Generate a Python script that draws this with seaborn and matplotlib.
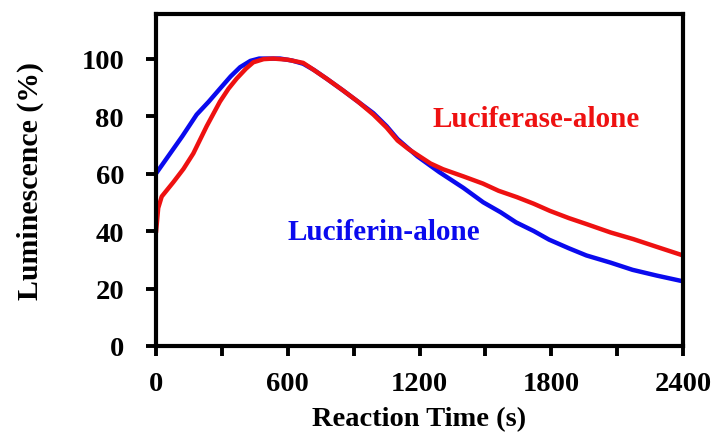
import matplotlib
matplotlib.use("Agg")
import matplotlib.pyplot as plt
import seaborn as sns
import pandas as pd
from matplotlib.ticker import MultipleLocator

# Data
luciferin_time = [0, 60, 120, 185, 240, 291, 340, 383, 430, 470, 520, 565, 620, 670, 720, 777,
                  850, 920, 990, 1050, 1100, 1190, 1290, 1400, 1490, 1570, 1640, 1720, 1790,
                  1880, 1960, 2070, 2170, 2280, 2400]
luciferin_lum = [60, 66.5, 73, 80.5, 85, 89.5, 93.8, 97, 99.2, 100, 100, 100, 99.3, 98.2, 96, 93,
                 89, 85, 81, 76.5, 72, 66, 60.5, 55, 50, 46.5, 43, 40, 37,
                 34, 31.5, 29, 26.5, 24.5, 22.5]
luciferase_time = [0, 10, 26, 79, 125, 170, 231, 291, 330, 367, 410, 443, 490, 534, 600, 670, 700,
                   777, 850, 920, 990, 1050, 1100, 1150, 1200, 1250, 1307, 1400, 1489, 1560, 1643,
                   1720, 1794, 1880, 1961, 2070, 2173, 2280, 2400]
luciferase_lum = [39.5, 48, 52, 57, 61.6, 67, 76.5, 85, 89.5, 93, 96.5, 98.7, 99.8, 100, 99.6, 98.5, 97,
                  93, 89, 85, 80.5, 76, 71.5, 68.5, 66, 63.5, 61.5, 59, 56.5, 54, 51.8,
                  49.5, 47, 44.5, 42.4, 39.5, 37.2, 34.5, 31.5]
series_names = ["Luciferin-alone", "Luciferase-alone"]
x_ticks = [0, 600, 1200, 1800, 2400]
y_ticks = [0, 20, 40, 60, 80, 100]

df = pd.concat([
    pd.DataFrame({"t": luciferin_time, "lum": luciferin_lum, "series": series_names[0]}),
    pd.DataFrame({"t": luciferase_time, "lum": luciferase_lum, "series": series_names[1]}),
])

sns.set_style("white", {"text.color": "black", "axes.labelcolor": "black",
                        "xtick.color": "black", "ytick.color": "black"})
plt.rcParams["font.family"] = ["Liberation Serif", "DejaVu Serif"]
plt.rcParams["font.weight"] = "bold"

fig = plt.figure(figsize=(7.14, 4.39), dpi=100)
ax = fig.add_axes([0.2185, 0.2096, 0.9566 - 0.2185, 0.9658 - 0.2096])

colors = {"Luciferin-alone": "#0a0aee", "Luciferase-alone": "#ee1111"}
sns.lineplot(data=df, x="t", y="lum", hue="series", palette=colors, linewidth=3.2,
             legend=False, ax=ax, estimator=None, sort=False)

ax.set_xlim(0, 2400)
ax.set_ylim(0, 115.5)
ax.set_xticks(x_ticks)
ax.xaxis.set_minor_locator(MultipleLocator(300))
ax.set_yticks(y_ticks)
ax.tick_params(axis="both", which="both", direction="out", length=7, width=2.8,
               labelsize=20.5, colors="black", bottom=True, left=True, top=False, right=False)
ax.tick_params(axis="x", which="major", pad=11)
ax.tick_params(axis="y", which="major", pad=16)
for lab in ax.get_xticklabels() + ax.get_yticklabels():
    lab.set_fontweight("bold")
for s in ax.spines.values():
    s.set_linewidth(3)
    s.set_color("black")

ax.set_xlabel("Reaction Time (s)", fontsize=20.5, fontweight="bold", labelpad=7, color="black")
ax.set_ylabel("Luminescence (%)", fontsize=21.5, fontweight="bold", labelpad=27, color="black")

ax.text(1257, 79, "Luciferase-alone", color=colors["Luciferase-alone"], fontsize=21,
        fontweight="bold", va="center", ha="left")
ax.text(597, 39.7, "Luciferin-alone", color=colors["Luciferin-alone"], fontsize=21,
        fontweight="bold", va="center", ha="left")

fig.savefig("out.png", dpi=100)
